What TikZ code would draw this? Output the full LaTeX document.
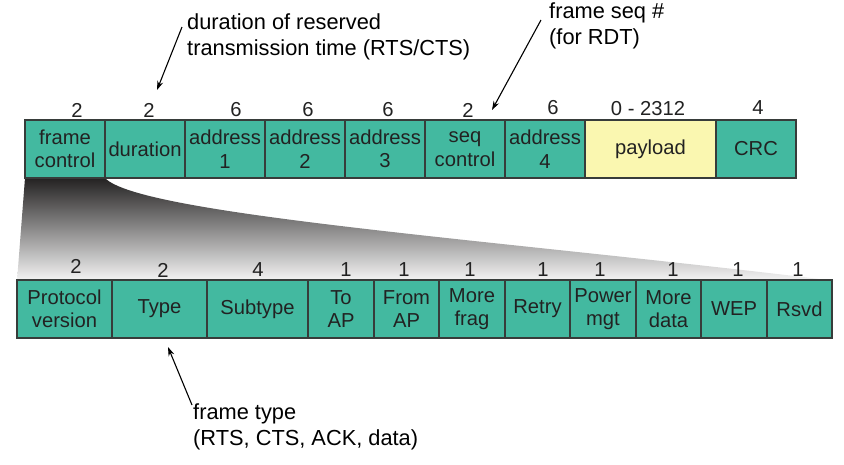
\documentclass[tikz,border=0pt]{standalone}
\usepackage{fontspec}
\setmainfont{Liberation Sans}
\usetikzlibrary{arrows.meta}
\definecolor{fieldfill}{RGB}{67,185,160}
\definecolor{payfill}{RGB}{250,247,176}
\definecolor{edgecol}{RGB}{55,60,58}
\definecolor{txtcol}{RGB}{34,34,34}
\definecolor{fantop}{RGB}{36,34,34}
\definecolor{fanmid}{RGB}{92,85,85}
\definecolor{fanbot}{RGB}{245,245,245}
\tikzset{
  fieldbox/.style={draw=edgecol, line width=1.2pt, fill=fieldfill, minimum height=58pt,
    inner sep=0pt, align=center, text=txtcol, font=\fontsize{20.2}{23.5}\selectfont},
  paybox/.style={fieldbox, fill=payfill},
  sizelbl/.style={inner sep=0pt, text=txtcol, font=\fontsize{20.2}{23}\selectfont},
  note/.style={inner sep=0pt, align=left, anchor=north west, text=black, font=\fontsize{21.8}{26}\selectfont},
  pointer/.style={line width=1.1pt, -{Stealth[length=9pt,width=6pt]}}
}
\begin{document}
\begin{tikzpicture}[x=1pt,y=-1pt]
\useasboundingbox (0,0) rectangle (844,464);
% fan
\shade[top color=fantop, middle color=fanmid, bottom color=fanbot]
  (25,178) -- (105,178) .. controls (140,215) and (500,240) .. (836,281) -- (17,281) -- cycle;
% top row
\node[fieldbox, minimum width=80pt] (fc) at (65,149) {frame\\control};
\node[fieldbox, minimum width=80pt] (dur) at (145,149) {duration};
\node[fieldbox, minimum width=80pt] (a1) at (225,149) {address\\1};
\node[fieldbox, minimum width=80pt] (a2) at (305,149) {address\\2};
\node[fieldbox, minimum width=80pt] (a3) at (385,149) {address\\3};
\node[fieldbox, minimum width=80pt] (seq) at (465,149) {seq\\control};
\node[fieldbox, minimum width=80pt] (a4) at (545,149) {address\\4};
\node[paybox, minimum width=131pt] (pay) at (650.5,149) {payload};
\node[fieldbox, minimum width=80pt] (crc) at (756,149) {CRC};
% top sizes
\node[sizelbl] (s1) at (77,110) {2};
\node[sizelbl] (s2) at (149,110) {2};
\node[sizelbl] (s3) at (236,110) {6};
\node[sizelbl] (s4) at (308,110) {6};
\node[sizelbl] (s5) at (388,110) {6};
\node[sizelbl] (s6) at (468,110) {2};
\node[sizelbl] (s7) at (553,108) {6};
\node[sizelbl] (s8) at (648,109) {0 - 2312};
\node[sizelbl] (s9) at (758,108) {4};
% bottom row
\node[fieldbox, minimum width=95pt] (pv) at (64.5,309) {Protocol\\version};
\node[fieldbox, minimum width=95pt] (ty) at (159.5,309) {Type};
\node[fieldbox, minimum width=101pt] (st) at (257.5,309) {Subtype};
\node[fieldbox, minimum width=66pt] (toap) at (341,309) {To\\AP};
\node[fieldbox, minimum width=65pt] (frap) at (406.5,309) {From\\AP};
\node[fieldbox, minimum width=66pt] (mf) at (472,309) {More\\frag};
\node[fieldbox, minimum width=65pt] (rt) at (537.5,309) {Retry};
\node[fieldbox, minimum width=66pt] (pm) at (603,309) {Power\\mgt};
\node[fieldbox, minimum width=65pt] (md) at (668.5,309) {More\\data};
\node[fieldbox, minimum width=66pt] (wep) at (734,309) {WEP};
\node[fieldbox, minimum width=65pt] (rs) at (799.5,309) {Rsvd};
% bottom sizes
\node[sizelbl] (b1) at (76,266) {2};
\node[sizelbl] (b2) at (163,270) {2};
\node[sizelbl] (b3) at (258,270) {4};
\node[sizelbl] (b4) at (346,270) {1};
\node[sizelbl] (b5) at (404,270) {1};
\node[sizelbl] (b6) at (470,270) {1};
\node[sizelbl] (b7) at (543,270) {1};
\node[sizelbl] (b8) at (600,270) {1};
\node[sizelbl] (b9) at (673,270) {1};
\node[sizelbl] (b10) at (738,270) {1};
\node[sizelbl] (b11) at (798,270) {1};
% annotations
\node[note] (durnote) at (187,13) {duration of reserved\\transmission time (RTS/CTS)};
\node[note] (seqnote) at (549,3) {frame seq \#\\(for RDT)};
\node[note] (typenote) at (193,404) {frame type\\(RTS, CTS, ACK, data)};
\coordinate (durtail) at (182,27);
\coordinate (durtip) at (157,90);
\coordinate (seqtail) at (541,20);
\coordinate (seqtip) at (492,110);
\coordinate (typetail) at (192,405);
\coordinate (typetip) at (168,347);
\draw[pointer] (durtail) -- (durtip);
\draw[pointer] (seqtail) -- (seqtip);
\draw[pointer] (typetail) -- (typetip);
\end{tikzpicture}
\end{document}
